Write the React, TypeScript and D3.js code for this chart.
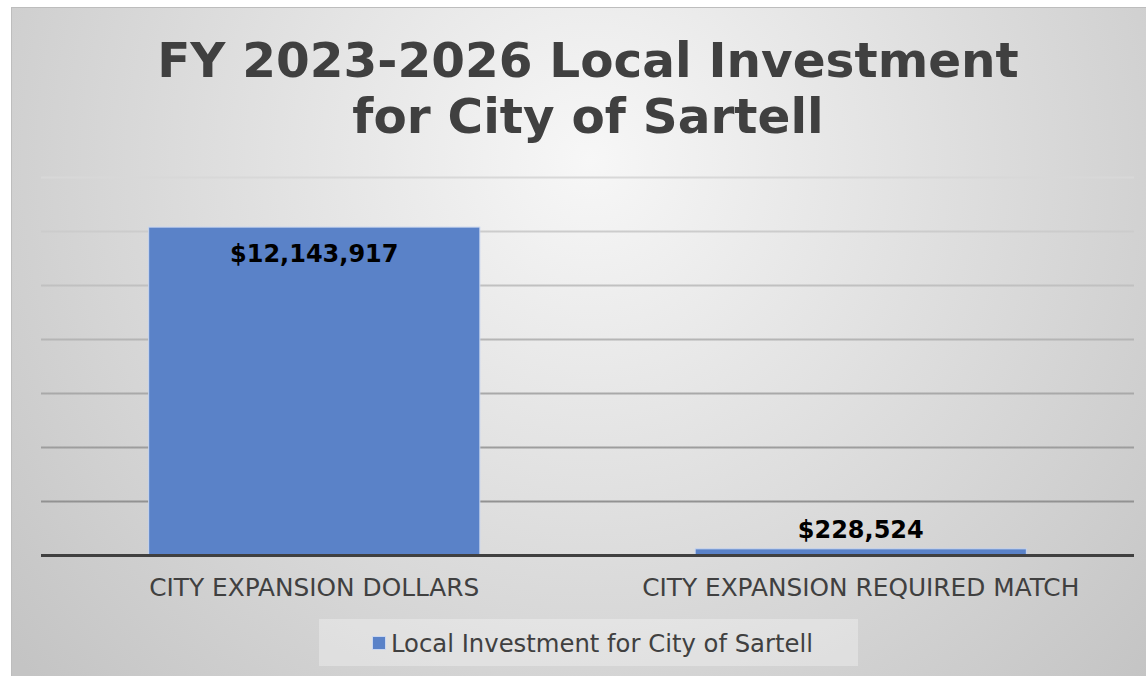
import React from "react";
import * as d3 from "d3";

const titleLines = ["FY 2023-2026 Local Investment", "for City of Sartell"];
const categories = ["CITY EXPANSION DOLLARS", "CITY EXPANSION REQUIRED MATCH"];
const values = [12143917, 228524];
const valueLabels = ["$12,143,917", "$228,524"];
const seriesName = "Local Investment for City of Sartell";
const yTicks = [0, 2000000, 4000000, 6000000, 8000000, 10000000, 12000000, 14000000];

const W = 1146;
const H = 676;
const BAR = "#5a82c8";
const TXT = "#404040";
const FONT = "'DejaVu Sans', Verdana, sans-serif";

export default function App() {
  const x = d3.scaleBand<string>().domain(categories).range([41, 1134]).paddingInner(0.394).paddingOuter(0.197);
  const y = d3.scaleLinear().domain([0, 14000000]).range([555, 177]);

  return (
    <svg width={W} height={H} style={{ position: "absolute", left: 0, top: 0 }} xmlns="http://www.w3.org/2000/svg">
      <defs>
        <radialGradient id="bg" gradientUnits="userSpaceOnUse" cx={590} cy={160} r={760}>
          <stop offset="0" stopColor="#f7f7f7" />
          <stop offset="1" stopColor="#c4c4c4" />
        </radialGradient>
        <linearGradient id="grid" gradientUnits="userSpaceOnUse" x1={0} y1={177} x2={0} y2={555}>
          <stop offset="0" stopColor="#d8d8d8" />
          <stop offset="1" stopColor="#868686" />
        </linearGradient>
      </defs>
      <rect x={0} y={0} width={W} height={H} fill="#ffffff" />
      <rect x={11.5} y={7.5} width={W - 11} height={H - 7} fill="url(#bg)" stroke="#bdbdbd" strokeWidth={1} />

      {titleLines.map((t, i) => (
        <text key={t} x={588} y={77 + i * 56} textAnchor="middle" fontFamily={FONT} fontWeight="bold" fontSize={48.5} fill={TXT}>
          {t}
        </text>
      ))}

      {yTicks.slice(1).map((v) => (
        <line key={v} x1={41} x2={1134} y1={Math.round(y(v)) + 0.5} y2={Math.round(y(v)) + 0.5} stroke="url(#grid)" strokeWidth={2} />
      ))}

      {categories.map((c, i) => (
        <rect
          key={c}
          x={x(c)!}
          y={y(values[i])}
          width={x.bandwidth()}
          height={y(0) - y(values[i])}
          fill={BAR}
          stroke="#c9d6ef"
          strokeWidth={1}
        />
      ))}

      <line x1={41} x2={1134} y1={y(0) + 0.5} y2={y(0) + 0.5} stroke={TXT} strokeWidth={3} />

      {categories.map((c, i) => {
        const inside = y(0) - y(values[i]) > 60;
        return (
          <text
            key={"l" + c}
            x={x(c)! + x.bandwidth() / 2}
            y={inside ? y(values[i]) + 35 : y(values[i]) - 11}
            textAnchor="middle"
            fontFamily={FONT}
            fontWeight="bold"
            fontSize={24}
            fill="#000000"
          >
            {valueLabels[i]}
          </text>
        );
      })}

      {categories.map((c) => (
        <text key={"c" + c} x={x(c)! + x.bandwidth() / 2} y={596} textAnchor="middle" fontFamily={FONT} fontSize={24.8} fill={TXT}>
          {c}
        </text>
      ))}

      <rect x={319} y={619} width={539} height={47} fill="#ffffff" fillOpacity={0.3} />
      <rect x={372.5} y={636.5} width={13} height={13} fill={BAR} stroke="#c9d6ef" strokeWidth={1} />
      <text x={391} y={652} fontFamily={FONT} fontSize={24.3} fill={TXT}>
        {seriesName}
      </text>
    </svg>
  );
}
